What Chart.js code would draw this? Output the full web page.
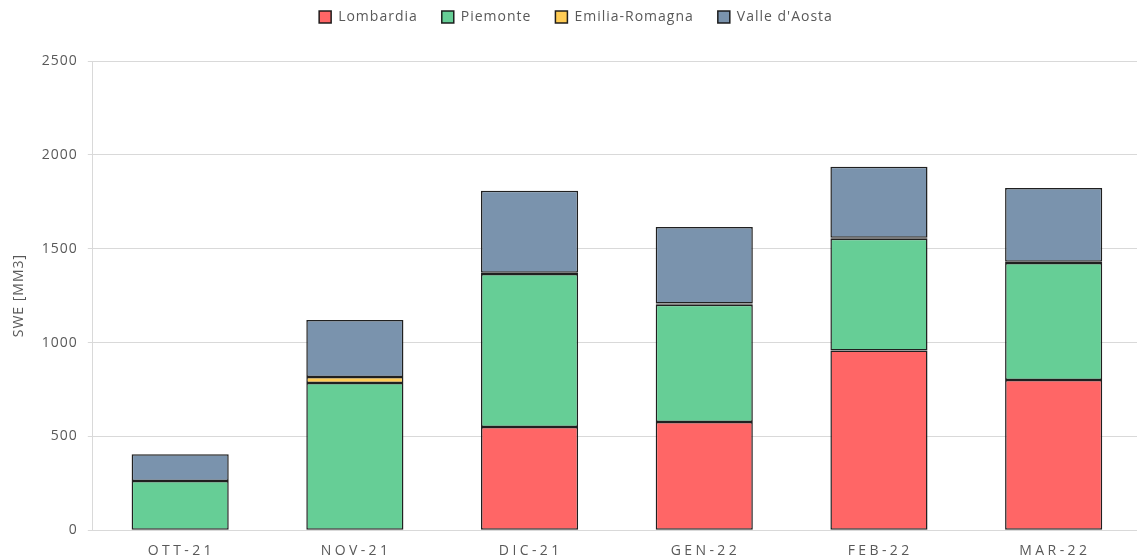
<!DOCTYPE html>
<html><head><meta charset="utf-8">
<script src="https://cdn.jsdelivr.net/npm/chart.js@4"></script>
<style>html,body{margin:0;padding:0;overflow:hidden;background:#fff}#wrap{width:1146px;height:559px}</style>
</head><body><div id="wrap"><canvas id="c"></canvas></div>
<script>
const categories = ['OTT-21','NOV-21','DIC-21','GEN-22','FEB-22','MAR-22'];
const lombardia = [null, null, 550, 576, 958, 800];
const piemonte = [262, 784, 815, 625, 595, 624];
const emilia = [null, 32, 7, 7, 5, 6];
const valle = [143, 304, 436, 407, 379, 393];
const yTicks = [0, 500, 1000, 1500, 2000, 2500];

const border = 'rgba(20,20,20,0.95)';
const mk = (label, data, color) => ({label, data, backgroundColor: color, borderColor: border, borderWidth: 1.5, borderSkipped: false, barPercentage: 0.556, categoryPercentage: 1.0});

const spacing = {
  id: 'spacing',
  beforeInit(chart) {
    const orig = chart.legend.fit;
    chart.legend.fit = function () { orig.call(this); this.height += 27; };
  },
  beforeLayout(chart) { chart.ctx.letterSpacing = '1px'; },
  beforeDraw(chart) { chart.ctx.letterSpacing = '1px'; }
};

new Chart(document.getElementById('c'), {
  type: 'bar',
  data: {
    labels: categories,
    datasets: [
      mk('Lombardia', lombardia, 'rgb(255,102,102)'),
      mk('Piemonte', piemonte, 'rgb(102,206,150)'),
      mk('Emilia-Romagna', emilia, 'rgb(255,204,85)'),
      mk("Valle d'Aosta", valle, 'rgb(122,147,173)')
    ]
  },
  plugins: [spacing],
  options: {
    responsive: true, maintainAspectRatio: false, animation: false,
    layout: {padding: {left: 11, top: -14, right: 5, bottom: -12}},
    plugins: {
      tooltip: {enabled: false},
      legend: {
        position: 'top',
        labels: {boxWidth: 12, boxHeight: 12, padding: 24, color: '#595959', font: {family: 'Open Sans', size: 14}},
        onClick: null
      }
    },
    scales: {
      x: {
        stacked: true,
        grid: {display: false, drawTicks: false},
        border: {display: true, color: '#d9d9d9', width: 1},
        ticks: {color: '#595959', padding: 12, font: {family: 'Open Sans', size: 14},
          callback: (v, i) => categories[i].split('').join('\u200A')}
      },
      y: {
        stacked: true, min: 0, max: 2500,
        afterBuildTicks: ax => { ax.ticks = yTicks.map(v => ({value: v})); },
        grid: {color: '#d9d9d9', tickLength: 5},
        border: {display: true, color: '#d9d9d9'},
        ticks: {color: '#595959', padding: 10, font: {family: 'Open Sans', size: 14}, callback: v => String(v)},
        title: {display: true, text: 'SWE [MM3]', color: '#595959', font: {family: 'Open Sans', size: 14}, padding: {top: 0, bottom: 4}}
      }
    }
  }
});
</script></body></html>
